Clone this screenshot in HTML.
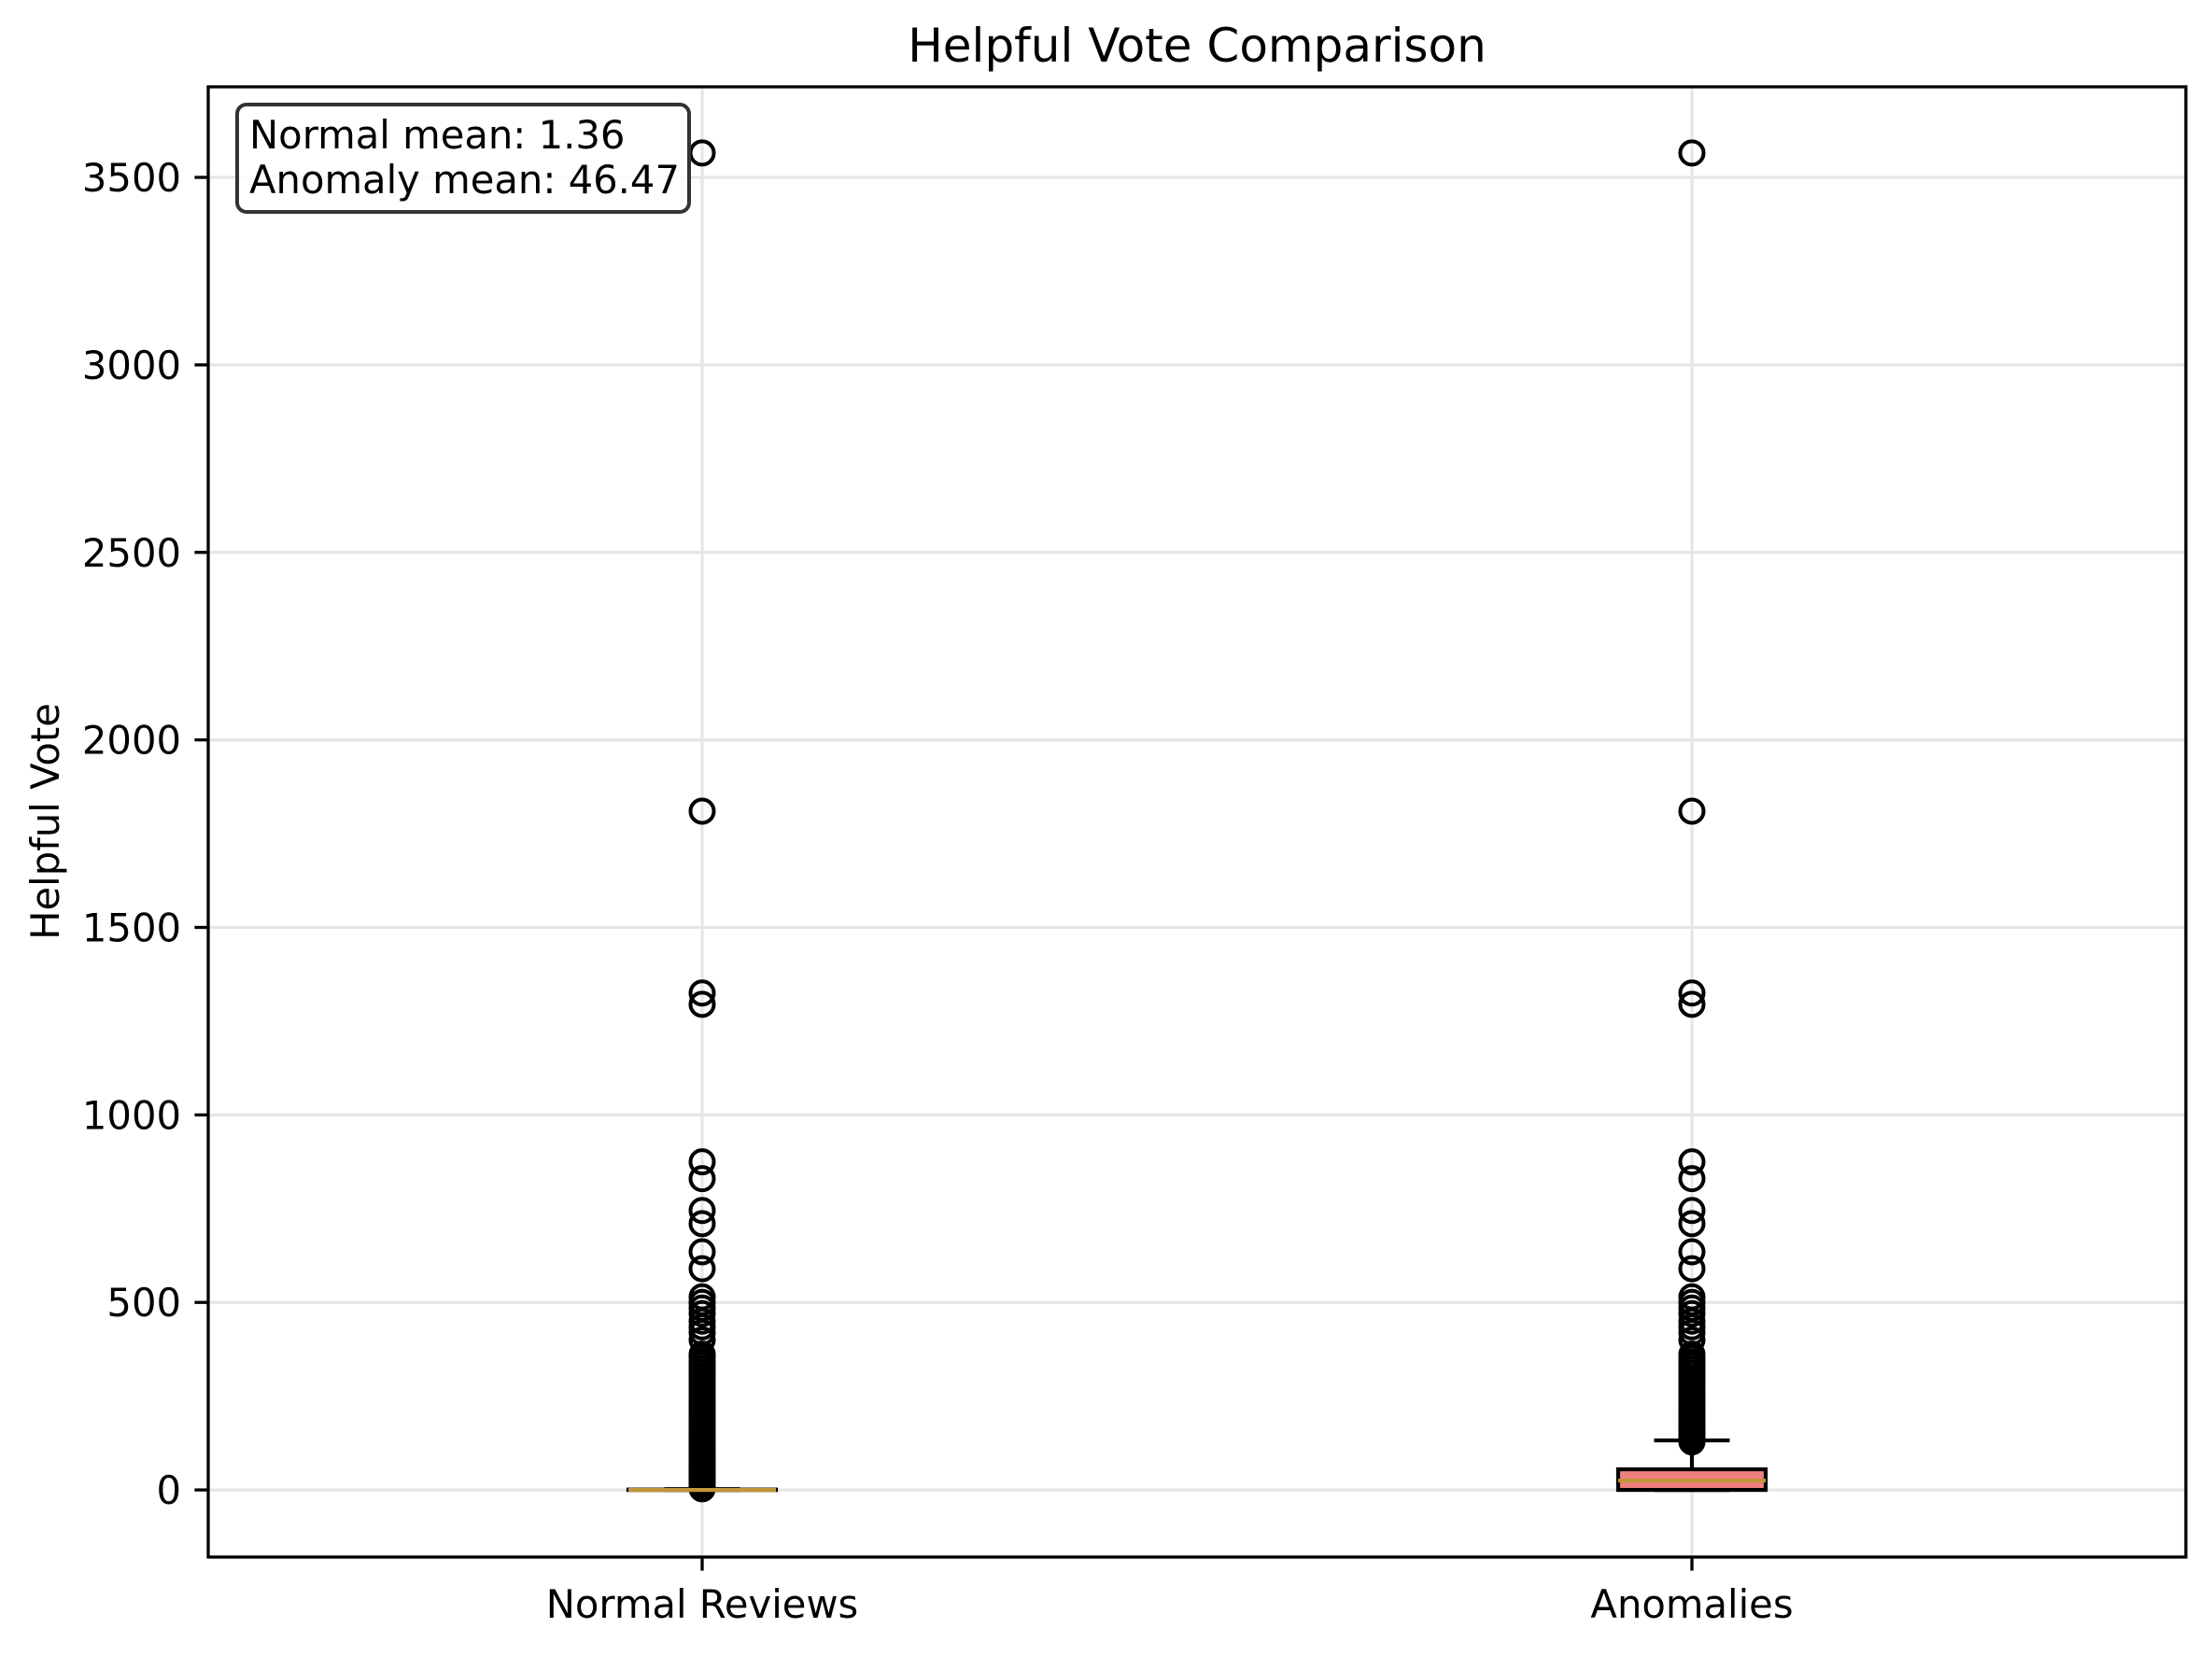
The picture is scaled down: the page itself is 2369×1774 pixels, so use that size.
<!DOCTYPE html>
<html><head><meta charset="utf-8"><style>
body{margin:0;background:#fff}
svg text{font-family:"DejaVu Sans","Liberation Sans",sans-serif;fill:#000}
</style></head><body>
<svg id="chart" width="2369" height="1769" viewBox="0 0 2369 1769" xmlns="http://www.w3.org/2000/svg">
<rect width="2369" height="1769" fill="#fff"/>
<g id="grid"></g>
<g id="marks"></g>
<g id="axes"></g>
</svg>
<script>
const categories = ["Normal Reviews", "Anomalies"];
const q1 = [0, 0];
const medians = [0, 25];
const q3 = [1, 55];
const whiskLo = [0, 0];
const whiskHi = [2, 132];
const yTicks = [0, 500, 1000, 1500, 2000, 2500, 3000, 3500];
const fliersNormal = [3,5,8,10,13,16,20,24,28,32,36,40,45,50,55,60,66,72,78,85,92,100,108,116,125,132,140,148,156,165,175,185,195,205,215,225,235,245,255,265,275,285,295,305,315,325,335,345,355,362,400,420,435,450,470,485,500,515,590,635,710,745,830,875,1295,1325,1810,3565];
const fliersAnomaly = [128,133,138,144,150,156,162,168,175,182,190,198,206,215,224,233,242,252,262,272,282,292,302,312,322,332,342,352,362,400,420,435,450,470,485,500,515,590,635,710,745,830,875,1295,1325,1810,3565];
const meanText = ["Normal mean: 1.36", "Anomaly mean: 46.47"];

const NS = "http://www.w3.org/2000/svg";
const L = 223, R = 2341, T = 93, B = 1668;
const yMin = -179, yMax = 3741.5;
const yS = v => B - (v - yMin) / (yMax - yMin) * (B - T);
const xS = i => [752, 1812][i];
function el(tag, attrs, parent) {
  const e = document.createElementNS(NS, tag);
  for (const k in attrs) e.setAttribute(k, attrs[k]);
  parent.appendChild(e);
  return e;
}
const grid = document.getElementById('grid'), marks = document.getElementById('marks'), axes = document.getElementById('axes');

yTicks.forEach(v => {
  const g = el('line', {x1: L, x2: R, y1: yS(v), y2: yS(v), stroke: '#e6e6e6', 'stroke-width': 3.3}, grid);
  
  
  const t = el('line', {x1: L - 14.6, x2: L, y1: yS(v), y2: yS(v), stroke: '#000', 'stroke-width': 3.3}, axes);
  
  
  const lb = el('text', {x: L - 29, y: yS(v) + 15, 'text-anchor': 'end', 'font-size': 41.7}, axes);
  lb.textContent = v;
  
  
});
categories.forEach((c, i) => {
  const g = el('line', {x1: xS(i), x2: xS(i), y1: T, y2: B, stroke: '#e6e6e6', 'stroke-width': 3.3}, grid);
  
  
  const t = el('line', {x1: xS(i), x2: xS(i), y1: B, y2: B + 14.6, stroke: '#000', 'stroke-width': 3.3}, axes);
  
  
  const lb = el('text', {x: xS(i), y: 1733, 'text-anchor': 'middle', 'font-size': 41.7}, axes);
  lb.textContent = c;
  
  
});

const fl = [fliersNormal, fliersAnomaly];
const fills = ['#87ceeb', '#f08080'];
categories.forEach((c, i) => {
  const x = xS(i), hw = 79, cw = 40.5;
  const g = el('g', {}, marks);
  
  
  el('line', {x1: x, x2: x, y1: yS(q3[i]), y2: yS(whiskHi[i]), stroke: '#000', 'stroke-width': 4.2}, g);
  el('line', {x1: x, x2: x, y1: yS(q1[i]), y2: yS(whiskLo[i]), stroke: '#000', 'stroke-width': 4.2}, g);
  el('line', {x1: x - cw, x2: x + cw, y1: yS(whiskHi[i]), y2: yS(whiskHi[i]), stroke: '#000', 'stroke-width': 4.2}, g);
  el('line', {x1: x - cw, x2: x + cw, y1: yS(whiskLo[i]), y2: yS(whiskLo[i]), stroke: '#000', 'stroke-width': 4.2}, g);
  el('rect', {x: x - hw, y: yS(q3[i]), width: 2 * hw, height: Math.max(0.5, yS(q1[i]) - yS(q3[i])), fill: fills[i], stroke: '#000', 'stroke-width': 4.2}, g);
  fl[i].forEach(v => {
    const p = el('circle', {cx: x, cy: yS(v), r: 12.5, fill: 'none', stroke: '#000', 'stroke-width': 4}, g);
    
    
  });
  el('line', {x1: x - hw, x2: x + hw, y1: yS(medians[i]), y2: yS(medians[i]), stroke: '#c0963a', 'stroke-width': 4.2}, g);
});

const frame = el('rect', {x: L, y: T, width: R - L, height: B - T, fill: 'none', stroke: '#000', 'stroke-width': 3.3}, axes);



const box = el('rect', {x: 254, y: 112, width: 484, height: 115, rx: 10, fill: '#fff', 'fill-opacity': 0.8, stroke: '#333', 'stroke-width': 4}, axes);


meanText.forEach((s, k) => {
  const t = el('text', {x: 267, y: 159 + k * 48, 'font-size': 41.7}, axes);
  t.textContent = s;
  
  
});

const title = el('text', {x: 1282, y: 66, 'text-anchor': 'middle', 'font-size': 50}, axes);
title.textContent = 'Helpful Vote Comparison';


const yl = el('text', {x: 0, y: 0, 'text-anchor': 'middle', 'font-size': 41.7, transform: 'translate(63,880) rotate(-90)'}, axes);
yl.textContent = 'Helpful Vote';


</script>
</body></html>
